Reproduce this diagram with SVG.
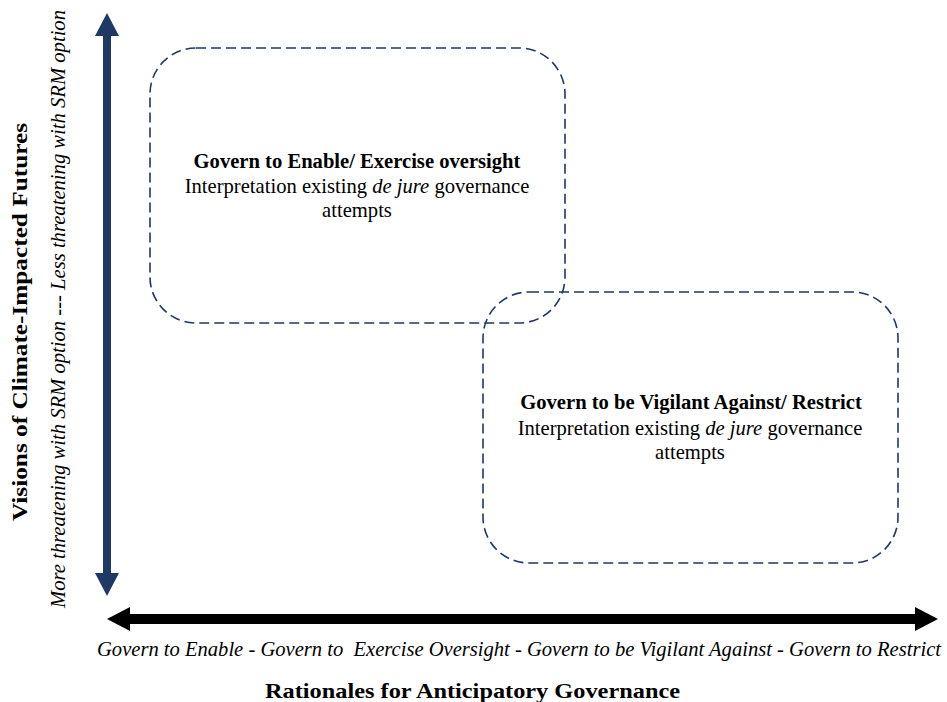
<svg xmlns="http://www.w3.org/2000/svg" width="947" height="702" viewBox="0 0 947 702">
  <style>
    .zone { fill: none; stroke: #203864; stroke-width: 1.6; stroke-dasharray: 10 5; }
  </style>
  <rect width="947" height="702" fill="#fff"/>

  <!-- axes -->
  <g id="connectors">
    <!-- vertical axis: dark navy double arrow -->
    <g id="axis-y" fill="#203864">
      <rect x="103" y="35" width="8" height="539"/>
      <polygon points="107,13 95,36 119,36"/>
      <polygon points="107,596 95,573 119,573"/>
    </g>
    <!-- horizontal axis: black double arrow -->
    <g id="axis-x" fill="#000">
      <rect x="129" y="614" width="787" height="10"/>
      <polygon points="107,619 130,607 130,631"/>
      <polygon points="938,619 915,607 915,631"/>
    </g>
  </g>

  <!-- axis labels -->
  <text font-family="'Liberation Serif', serif" font-weight="bold" font-size="22" transform="translate(27,322) rotate(-90)" text-anchor="middle" textLength="398" lengthAdjust="spacingAndGlyphs">Visions of Climate-Impacted Futures</text>
  <text font-family="'Liberation Serif', serif" font-style="italic" font-size="20" transform="translate(65,309) rotate(-90)" text-anchor="middle" textLength="598" lengthAdjust="spacingAndGlyphs">More threatening with SRM option --- Less threatening with SRM option</text>
  <text font-family="'Liberation Serif', serif" font-style="italic" font-size="20.5" x="97" y="656" textLength="844" lengthAdjust="spacingAndGlyphs" xml:space="preserve">Govern to Enable - Govern to  Exercise Oversight - Govern to be Vigilant Against - Govern to Restrict</text>
  <text font-family="'Liberation Serif', serif" font-weight="bold" font-size="22" x="265" y="698" textLength="415" lengthAdjust="spacingAndGlyphs">Rationales for Anticipatory Governance</text>

  <!-- upper-left zone -->
  <g id="enable-oversight">
    <rect class="zone" x="150" y="48" width="415" height="275" rx="46" ry="46"/>
    <text font-family="'Liberation Serif', serif" font-size="20.6" font-weight="bold" x="357" y="168" text-anchor="middle">Govern to Enable/ Exercise oversight</text>
    <text font-family="'Liberation Serif', serif" font-size="20.6" x="357" y="193" text-anchor="middle">Interpretation existing <tspan font-style="italic">de jure</tspan> governance</text>
    <text font-family="'Liberation Serif', serif" font-size="20.6" x="357" y="217" text-anchor="middle">attempts</text>
  </g>

  <!-- lower-right zone -->
  <g id="vigilant-restrict">
    <rect class="zone" x="483" y="292" width="415" height="271" rx="46" ry="46"/>
    <text font-family="'Liberation Serif', serif" font-size="20.6" font-weight="bold" x="691" y="409" text-anchor="middle">Govern to be Vigilant Against/ Restrict</text>
    <text font-family="'Liberation Serif', serif" font-size="20.6" x="690" y="435" text-anchor="middle">Interpretation existing <tspan font-style="italic">de jure</tspan> governance</text>
    <text font-family="'Liberation Serif', serif" font-size="20.6" x="690" y="459" text-anchor="middle">attempts</text>
  </g>
</svg>
